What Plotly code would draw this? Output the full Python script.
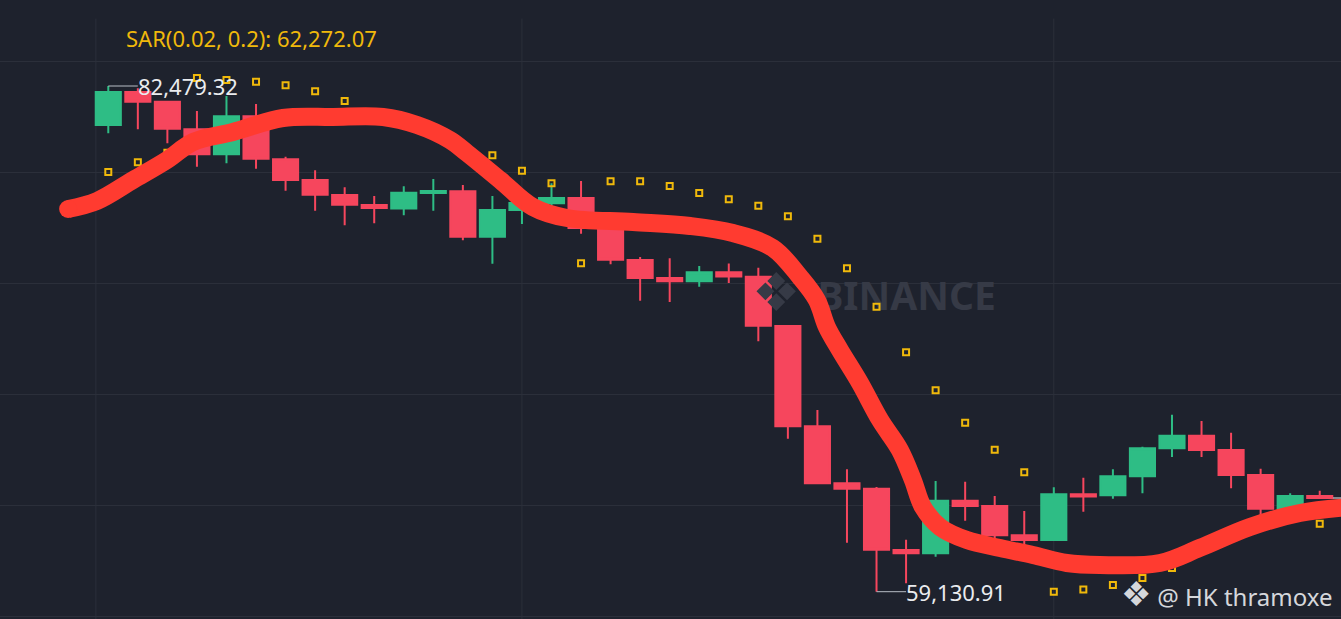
import plotly.graph_objects as go

# candle data (index, OHLC)
idx = list(range(42))
opens = [80679, 82202, 81754, 80480, 79326, 81080, 79095, 78139, 77447, 76985,
         76824, 77539, 77617, 75522, 76754, 77063, 77308, 75923, 74446, 73615,
         73462, 73878, 73670, 71399, 66768, 64136, 63887, 61056, 60904, 63333,
         63088, 61735, 61518, 63628, 63582, 64459, 65752, 66334, 65673, 64519,
         62963, 63550]
highs = [82479.32, 82373, 81800, 81325, 82018, 81648, 79215, 78587, 77802, 77401,
         77853, 78186, 77908, 77401, 77447, 77987, 78093, 76200, 74584, 74524,
         74169, 74284, 74090, 71399, 67520, 64782, 63965, 61532, 64242, 64210,
         63550, 62857, 63951, 64395, 64782, 65826, 67303, 67012, 66472, 64810,
         63674, 63794]
lows = [80295, 80480, 79834, 78753, 78910, 78661, 77645, 76722, 76048, 76140,
        76510, 76717, 75355, 74275, 76108, 76907, 75660, 74247, 72567, 72507,
        73213, 73384, 70692, 66195, 64090, 61393, 59130.91, 59519, 60747, 62409,
        61287, 61287, 61472, 62825, 63425, 63674, 65350, 65350, 63905, 62442,
        62825, 63457]
closes = [82202, 81754, 80508, 79326, 81080, 79123, 78139, 77461, 76999, 76847,
          77548, 77631, 75522, 76754, 77077, 77308, 75923, 74460, 73615, 73462,
          73878, 73684, 71412, 66768, 64136, 63887, 61070, 60904, 63333, 63088,
          61735, 61518, 63628, 63527, 64459, 65752, 66334, 65673, 64519, 62963,
          63550, 63457]

# parabolic SAR (None where hidden under the drawing)
sar = [78509, 78957, 79400, 82849, 82756, 82678, 82512, 82235, 81787, None,
       None, None, None, 79280, 78569, 77987, 74293, 78079, 78079, 77862,
       77539, 77248, 76953, 76463, 75429, 74063, 72290, 70184, 68430, 66934,
       65687, 64644, 59131, 59233, 59440, 59764, 60225, None, None, None,
       None, 62272.07]

# hand drawn red stroke
draw_x = [-1.36, -0.38, 0.84, 1.99, 2.87, 4.22, 5.91, 7.60, 9.30, 10.45,
          11.56, 12.14, 13.26, 14.37, 15.52, 17.76, 19.69, 21.14, 22.49, 23.41,
          23.98, 24.32, 24.76, 25.44, 26.12, 26.79, 27.23, 27.57, 28.15, 29.06,
          30.18, 31.29, 32.44, 33.56, 35.59, 36.94, 38.64, 40.33, 42.02]
draw_y = [76800, 77170, 78139, 79063, 79894, 80356, 81002, 81048, 81048, 80679,
          79986, 79386, 78139, 76893, 76385, 76200, 76016, 75692, 75000, 73661,
          72599, 71352, 70290, 68767, 67059, 65673, 64288, 63042, 62118, 61518,
          61149, 60826, 60456, 60364, 60456, 61149, 62118, 62765, 63042]

high_label = "82,479.32"
low_label = "59,130.91"
sar_label = "SAR(0.02, 0.2): 62,272.07"

bg = "#1e222d"
grid = "#2b2f3a"
up = "#2ebd85"
down = "#f6465d"
font = "Noto Sans"

# watermark, drawn first so it sits under the candles
wm = go.Scatter(x=[22.6, 24.0], y=[72737, 72600], mode="text",
                text=["❖", "<b>BINANCE</b>"],
                textposition=["middle center", "middle right"],
                textfont=dict(family=font, size=[54, 39], color="#363a46"),
                hoverinfo="skip")

candles = go.Candlestick(x=idx, open=opens, high=highs, low=lows, close=closes,
                         increasing=dict(line=dict(color=up, width=2), fillcolor=up),
                         decreasing=dict(line=dict(color=down, width=2), fillcolor=down),
                         whiskerwidth=0)

sar_trace = go.Scatter(x=idx, y=sar, mode="markers",
                       marker=dict(symbol="square-open", size=6, color="#f0b90b",
                                   line=dict(width=2, color="#f0b90b")))

stroke = go.Scatter(x=draw_x, y=draw_y, mode="lines", line_shape="spline",
                    line=dict(color="#ff3b30", width=18))
cap = go.Scatter(x=draw_x[:1], y=draw_y[:1], mode="markers",
                 marker=dict(size=18, color="#ff3b30", line=dict(width=0)))

fig = go.Figure(data=[wm, candles, sar_trace, stroke, cap])

fig.update_layout(
    width=1341, height=619,
    margin=dict(l=0, r=0, t=0, b=0),
    paper_bgcolor=bg, plot_bgcolor=bg,
    showlegend=False, boxgap=0.15, boxgroupgap=0,
    font=dict(family=font),
    xaxis=dict(range=[-3.665, 41.72], showticklabels=False, showgrid=False,
               zeroline=False, rangeslider=dict(visible=False), fixedrange=True),
    yaxis=dict(range=[57870.7, 86449.9], showticklabels=False, showgrid=True,
               gridcolor=grid, gridwidth=1, tick0=83633, dtick=5129.5,
               zeroline=False),
)

# time grid lines
for gx in [-0.42, 14, 32]:
    fig.add_shape(type="line", xref="x", yref="paper", x0=gx, x1=gx, y0=0, y1=0.97,
                  line=dict(color=grid, width=1), layer="below")

# last price tick at the right edge
fig.add_shape(type="line", xref="x", yref="y", x0=41.45, x1=41.72,
              y0=closes[-1], y1=closes[-1], line=dict(color="#eaecef", width=1))

# high / low markers
fig.add_shape(type="line", xref="x", yref="y", x0=0, x1=1.0,
              y0=highs[0], y1=highs[0], line=dict(color="#b7bdc6", width=1))
fig.add_shape(type="line", xref="x", yref="y", x0=26, x1=27.0,
              y0=lows[26], y1=lows[26], line=dict(color="#b7bdc6", width=1))
fig.add_annotation(x=1.0, y=highs[0], text=high_label, showarrow=False,
                   xanchor="left", yanchor="middle", xshift=-2,
                   font=dict(size=22, color="#eaecef", family=font))
fig.add_annotation(x=27.0, y=lows[26], text=low_label, showarrow=False,
                   xanchor="left", yanchor="middle", xshift=-2,
                   font=dict(size=22, color="#eaecef", family=font))

fig.add_annotation(xref="paper", yref="paper", x=124 / 1341, y=1 - 38 / 619,
                   text=sar_label, showarrow=False, xanchor="left", yanchor="middle",
                   font=dict(size=22, color="#f0b90b", family=font))

fig.add_annotation(xref="paper", yref="paper", x=1 - 6 / 1341, y=1 - 593 / 619,
                   text="<span style='font-size:34px'>❖</span> @ HK thramoxe",
                   showarrow=False, xanchor="right", yanchor="middle",
                   font=dict(size=24, color="#d5d7db", family=font))

fig.write_html("out.html", config={"displayModeBar": False},
               post_script="document.body.style.margin='0';")
